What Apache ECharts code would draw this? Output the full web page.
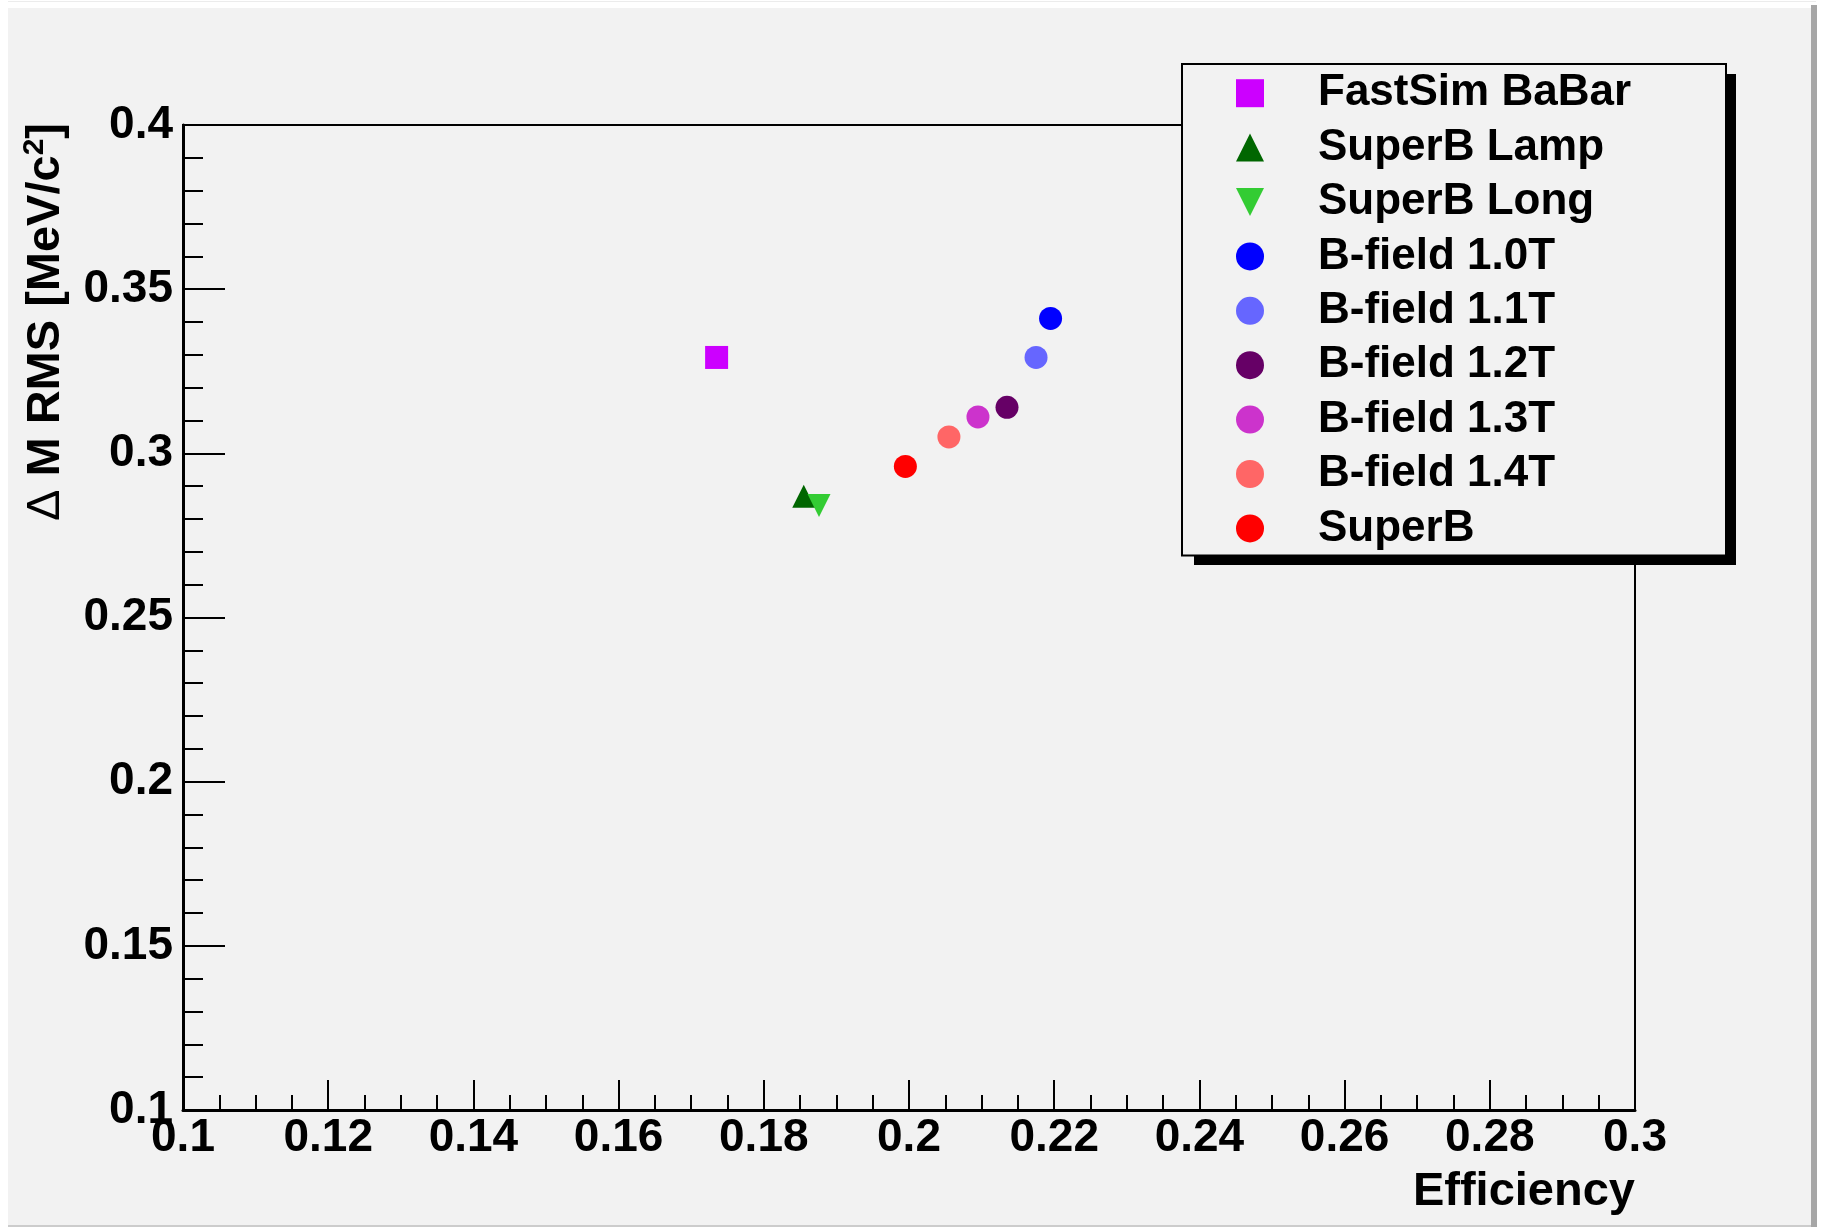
<!DOCTYPE html>
<html lang="en">
<head>
    <meta charset="utf-8">
    <title>Delta M RMS vs Efficiency</title>
    <script src="https://cdn.jsdelivr.net/npm/echarts@6.0.0/dist/echarts.min.js"></script>
    <style>
        html, body { margin: 0; padding: 0; background: #ffffff; }
    </style>
</head>
<body>
<div id="main" style="width:1821px;height:1227px;"></div>

<script type="text/javascript">
    // one point per configuration
    var names = ['FastSim BaBar', 'SuperB Lamp', 'SuperB Long', 'B-field 1.0T', 'B-field 1.1T',
                 'B-field 1.2T', 'B-field 1.3T', 'B-field 1.4T', 'SuperB'];
    var efficiency = [0.1735, 0.1855, 0.1876, 0.2195, 0.2175, 0.2135, 0.2095, 0.2055, 0.1995];
    var rmsMass = [0.3292, 0.2869, 0.2841, 0.3411, 0.3292, 0.3140, 0.3111, 0.3050, 0.2960];

    var colors = ['#cc00ff', '#006600', '#33cc33', '#0000ff', '#6666ff',
                  '#660066', '#cc33cc', '#ff6666', '#ff0000'];
    var symbols = ['rect', 'triangle', 'path://M0,0L10,0L5,10Z', 'circle', 'circle',
                   'circle', 'circle', 'circle', 'circle'];

    var font = 'Liberation Sans, Arial, Helvetica, sans-serif';

    var series = names.map(function (n, i) {
        return {
            name: n,
            type: 'scatter',
            symbol: symbols[i],
            symbolSize: 23,
            itemStyle: { color: colors[i], opacity: 1 },
            data: [[efficiency[i], rmsMass[i]]]
        };
    });

    var myChart = echarts.init(document.getElementById('main'));

    myChart.setOption({
        animation: false,
        backgroundColor: '#f2f2f2',
        grid: {
            left: 183, top: 125, width: 1452, height: 985,
            show: true,
            backgroundColor: '#f2f2f2',
            borderColor: '#000',
            borderWidth: 2
        },
        legend: {
            data: names,
            orient: 'vertical',
            left: 1182,
            top: 64,
            padding: [2, 95, 0, 54],
            itemGap: 0,
            itemWidth: 28,
            itemHeight: 28,
            backgroundColor: '#f2f2f2',
            borderColor: '#000',
            borderWidth: 2,
            selectedMode: false,
            textStyle: {
                fontFamily: font, fontSize: 44, fontWeight: 'bold', color: '#000',
                lineHeight: 54.4, padding: [0, 0, 0, 49]
            }
        },
        xAxis: {
            type: 'value',
            min: 0.1, max: 0.3, interval: 0.02,
            name: 'Efficiency',
            nameLocation: 'end',
            nameGap: 0,
            nameTextStyle: {
                fontFamily: font, fontSize: 47, fontWeight: 'bold', color: '#000',
                align: 'right', verticalAlign: 'top', padding: [59, 0, 0, 0]
            },
            axisLine: { lineStyle: { color: '#000', width: 3 } },
            axisTick: { inside: true, length: 30, lineStyle: { color: '#000', width: 2 } },
            minorTick: { show: true, splitNumber: 4, length: 15, lineStyle: { color: '#000', width: 2 } },
            splitLine: { show: false },
            axisLabel: {
                fontFamily: font, fontSize: 46, fontWeight: 'bold', color: '#000',
                margin: 5, showMinLabel: true, showMaxLabel: true
            }
        },
        yAxis: {
            type: 'value',
            min: 0.1, max: 0.4, interval: 0.05,
            axisLine: { lineStyle: { color: '#000', width: 3 } },
            axisTick: { inside: true, length: 42, lineStyle: { color: '#000', width: 2 } },
            minorTick: { show: true, splitNumber: 5, length: 20, lineStyle: { color: '#000', width: 2 } },
            splitLine: { show: false },
            axisLabel: {
                fontFamily: font, fontSize: 46, fontWeight: 'bold', color: '#000',
                margin: 10, showMinLabel: true, showMaxLabel: true
            }
        },
        graphic: [
            // canvas margins and bevel
            { type: 'rect', z: 10, shape: { x: 0, y: 0, width: 1821, height: 8 }, style: { fill: '#fff' } },
            { type: 'rect', z: 10, shape: { x: 0, y: 1, width: 1816, height: 1 }, style: { fill: '#ececec' } },
            { type: 'rect', z: 10, shape: { x: 0, y: 0, width: 8, height: 1227 }, style: { fill: '#fff' } },
            { type: 'rect', z: 10, shape: { x: 1811, y: 5, width: 6, height: 1222 }, style: { fill: '#a6a6a6' } },
            { type: 'rect', z: 10, shape: { x: 1817, y: 0, width: 4, height: 1227 }, style: { fill: '#fff' } },
            { type: 'rect', z: 10, shape: { x: 8, y: 1225, width: 1803, height: 2 }, style: { fill: '#cccccc' } },
            // legend shadow
            { type: 'rect', z: 3, shape: { x: 1194, y: 74, width: 542, height: 491 }, style: { fill: '#000' } },
            // y axis title
            {
                type: 'text', z: 10, x: 46, y: 123, rotation: Math.PI / 2,
                style: {
                    text: '{d|Δ }{a|M RMS [MeV/c}{s|2}{a|]}',
                    align: 'right', verticalAlign: 'middle',
                    rich: {
                        d: { fontFamily: font, fontSize: 47, fontWeight: 'normal', fill: '#000', lineHeight: 52 },
                        a: { fontFamily: font, fontSize: 47, fontWeight: 'bold', fill: '#000', lineHeight: 52 },
                        s: { fontFamily: font, fontSize: 30, fontWeight: 'bold', fill: '#000', verticalAlign: 'top' }
                    }
                }
            }
        ],
        series: series
    });
</script>
</body>
</html>
